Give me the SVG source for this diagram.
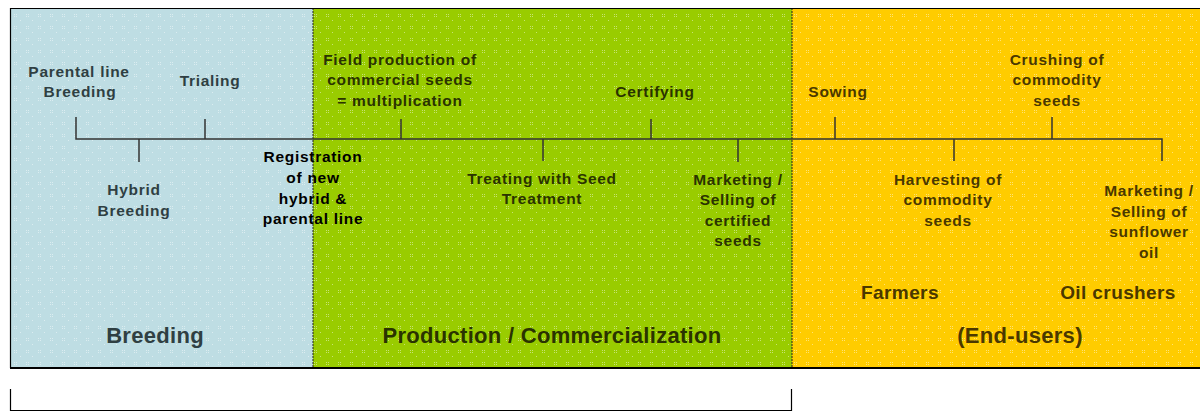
<svg xmlns="http://www.w3.org/2000/svg" width="1200" height="412" viewBox="0 0 1200 412">
<style>
text{font-family:"Liberation Sans",Arial,sans-serif;font-weight:bold;text-anchor:middle}
.s{font-size:15.5px;letter-spacing:0.7px}
.b{fill:#2f3f42}
.g{fill:#2a3300}
.y{fill:#4a3800}
.k{fill:#000}
.big{font-size:22px;letter-spacing:0.3px}
.mid{font-size:19px;letter-spacing:0.4px}
.tick{stroke:#333;stroke-width:1.5;fill:none}
</style>
<defs>
<pattern id="dots" width="12" height="12" patternUnits="userSpaceOnUse">
<rect x="2" y="2" width="1" height="1" fill="#fff"/>
<rect x="4" y="2" width="1" height="1" fill="#fff"/>
<rect x="2" y="4" width="1" height="1" fill="#fff"/>
<rect x="4" y="4" width="1" height="1" fill="#fff"/>
<rect x="8" y="8" width="1" height="1" fill="#fff"/>
</pattern>
</defs>
<rect width="1200" height="412" fill="#fff"/>
<g id="panels">
<rect x="10" y="8" width="303" height="360" fill="#bedde3"/>
<rect x="313" y="8" width="479" height="360" fill="#99cc00"/>
<rect x="792" y="8" width="410" height="360" fill="#ffcc00"/>
<rect x="10" y="8" width="1192" height="360" fill="url(#dots)" opacity="0.45"/>
<line x1="313" y1="8" x2="313" y2="368" stroke="#222" stroke-width="1" stroke-dasharray="2,1"/>
<line x1="792" y1="8" x2="792" y2="368" stroke="#222" stroke-width="1" stroke-dasharray="2,1"/>
<path d="M10.5,368 V8.5 H1200" fill="none" stroke="#000" stroke-width="1.2"/>
<line x1="10" y1="368" x2="1200" y2="368" stroke="#000" stroke-width="2"/>
</g>
<g id="connectors">
<path class="tick" d="M76,117 V139 H1162 V161"/>
<line class="tick" x1="139" y1="139" x2="139" y2="162"/>
<line class="tick" x1="205" y1="119" x2="205" y2="139"/>
<line class="tick" x1="401" y1="119" x2="401" y2="139"/>
<line class="tick" x1="543" y1="139" x2="543" y2="161"/>
<line class="tick" x1="651" y1="119" x2="651" y2="139"/>
<line class="tick" x1="738" y1="139" x2="738" y2="162"/>
<line class="tick" x1="835" y1="117" x2="835" y2="139"/>
<line class="tick" x1="954" y1="139" x2="954" y2="161"/>
<line class="tick" x1="1052" y1="117" x2="1052" y2="139"/>
</g>
<g id="parental"><text class="s b" x="79" y="77">Parental line</text><text class="s b" x="80" y="97">Breeding</text></g>
<g id="trialing"><text class="s b" x="210" y="86">Trialing</text></g>
<g id="hybrid"><text class="s b" x="134" y="195">Hybrid</text><text class="s b" x="134" y="216">Breeding</text></g>
<g id="registration"><text class="s k" x="313" y="162">Registration</text><text class="s k" x="313" y="183">of new</text><text class="s k" x="313" y="204">hybrid &amp;</text><text class="s k" x="313" y="224">parental line</text></g>
<g id="field"><text class="s g" x="400" y="65">Field production of</text><text class="s g" x="400" y="85">commercial seeds</text><text class="s g" x="400" y="106">= multiplication</text></g>
<g id="certifying"><text class="s g" x="655" y="97">Certifying</text></g>
<g id="treating"><text class="s g" x="542" y="184">Treating with Seed</text><text class="s g" x="542" y="204">Treatment</text></g>
<g id="marketing1"><text class="s g" x="738" y="185">Marketing /</text><text class="s g" x="738" y="205">Selling of</text><text class="s g" x="738" y="226">certified</text><text class="s g" x="738" y="246">seeds</text></g>
<g id="sowing"><text class="s y" x="838" y="97">Sowing</text></g>
<g id="crushing"><text class="s y" x="1057" y="65">Crushing of</text><text class="s y" x="1057" y="85">commodity</text><text class="s y" x="1057" y="106">seeds</text></g>
<g id="harvesting"><text class="s y" x="948" y="185">Harvesting of</text><text class="s y" x="948" y="205">commodity</text><text class="s y" x="948" y="226">seeds</text></g>
<g id="marketing2"><text class="s y" x="1149" y="196">Marketing /</text><text class="s y" x="1149" y="217">Selling of</text><text class="s y" x="1149" y="237">sunflower</text><text class="s y" x="1149" y="258">oil</text></g>
<g id="farmers"><text class="mid y" x="900" y="299">Farmers</text></g>
<g id="oilcrushers"><text class="mid y" x="1118" y="299">Oil crushers</text></g>
<g id="breeding"><text class="big b" x="155" y="343">Breeding</text></g>
<g id="production"><text class="big g" x="552" y="343">Production / Commercialization</text></g>
<g id="endusers"><text class="big y" x="1020" y="343">(End-users)</text></g>
<g id="bracket"><path d="M10.5,389 V410.5 H791.5 V389" fill="none" stroke="#000" stroke-width="1.2"/></g>
</svg>
